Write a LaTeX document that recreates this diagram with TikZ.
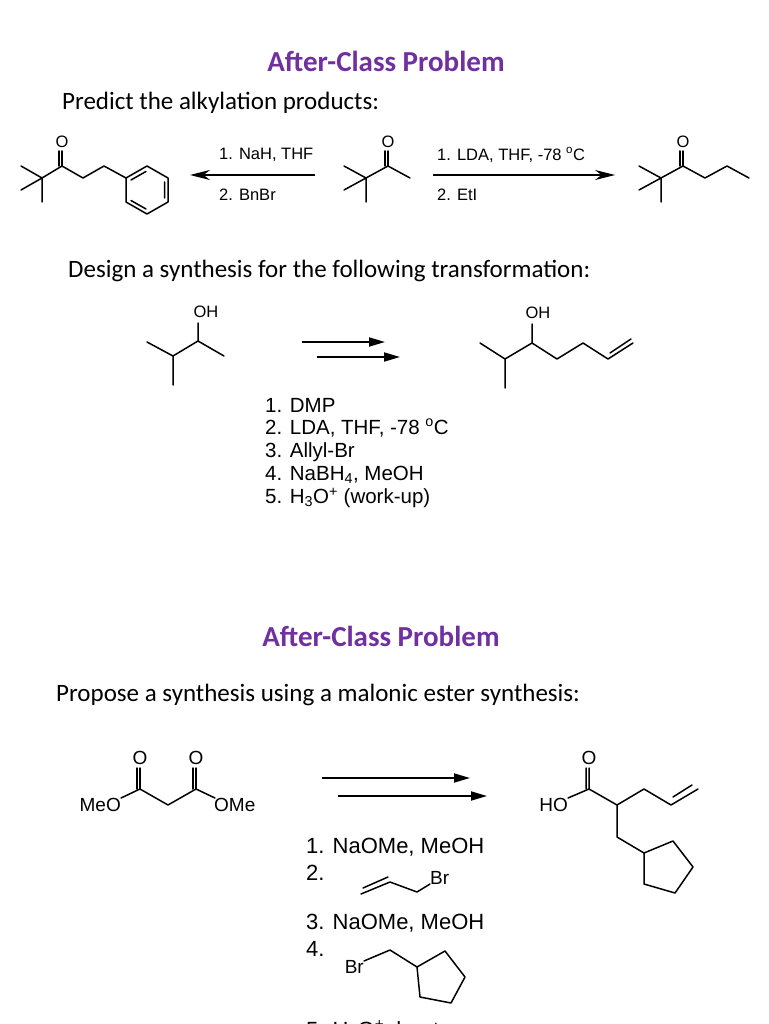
\documentclass[tikz,border=0pt]{standalone}
\usepackage{fontspec}
\setmainfont{Carlito}
\newfontfamily\arialf{Liberation Sans}
\usetikzlibrary{arrows.meta}
\definecolor{ttl}{HTML}{7030A0}
\newcommand{\sbs}[1]{\textsubscript{#1}}
\newcommand{\sps}[1]{\textsuperscript{#1}}
\begin{document}
\begin{tikzpicture}[x=1pt,y=-1pt,
  bd/.style={line width=1.5pt,line cap=round,line join=round},
  title/.style={font=\fontsize{29}{33}\selectfont\bfseries,text=ttl,inner sep=0},
  body/.style={font=\fontsize{25}{29}\selectfont,anchor=west,inner sep=0},
  lab/.style={font=\arialf\fontsize{16.5}{19}\selectfont,inner sep=0},
  mlab/.style={font=\arialf\fontsize{19}{22}\selectfont,inner sep=0},
  rg/.style={font=\arialf\fontsize{20.5}{24}\selectfont,anchor=west,inner sep=0},
  rgb/.style={font=\arialf\fontsize{22}{26}\selectfont,anchor=west,inner sep=0},
  arr/.style={line width=1.3pt,-{Stealth[length=20pt,width=10pt]}},
  arr2/.style={line width=1.8pt,-{Triangle[length=16pt,width=9pt]}}]
\useasboundingbox (0,0) rectangle (768,1024);
\fill[white] (0,0) rectangle (768,1024);
% titles
\node[title] (t1) at (386,61) {After-Class Problem};
\node[body] (b1) at (62,103) {Predict the alkylation products:};
% left product
\node[lab] (o1) at (62,142) {O};
\draw[bd] (21,166)--(42,178)--(21,190) (42,178)--(42,202) (42,178)--(62,166)--(83,178)--(104,166)--(126,178);
\draw[bd] (62,166)--(62,151) (59,166)--(59,151);
\draw[bd] (147,166)--(168,178)--(168,202)--(147,214)--(126,202)--(126,178)--cycle;
\draw[bd] (164.5,182)--(164.5,198) (146,209)--(131,200.5) (131,180)--(146,171.5);
% arrow 1
\coordinate (a1s) at (315,175); \coordinate (a1e) at (190,175);
\draw[arr] (a1s)--(a1e);
\node[lab,anchor=west] (r1) at (219,155) {1. NaH, THF};
\node[lab,anchor=west] (r2) at (219,195) {2. BnBr};
% middle
\node[lab] (o2) at (388,142) {O};
\draw[bd] (344,166)--(366,178)--(344,190) (366,178)--(366,202) (366,178)--(388,166)--(410,178);
\draw[bd] (388,166)--(388,151) (385,166)--(385,151);
\coordinate (a2s) at (433,175); \coordinate (a2e) at (615,175);
\draw[arr] (a2s)--(a2e);
\node[lab,anchor=west] (r3) at (437,155) {1. LDA, THF, -78 \sps{o}C};
\node[lab,anchor=west] (r4) at (437,195) {2. EtI};
% right
\node[lab] (o3) at (683,142) {O};
\draw[bd] (639,166)--(661,178)--(639,190) (661,178)--(661,202) (661,178)--(683,166)--(705,178)--(727,166)--(749,178);
\draw[bd] (683,166)--(683,151) (680,166)--(680,151);
% design
\node[body] (b2) at (68,271) {Design a synthesis for the following transformation:};
\node[lab] (oh1) at (206,312) {OH};
\draw[bd] (147,342)--(173,356)--(198,341)--(224,356) (173,356)--(173,385) (198,341)--(198,323);
\coordinate (d1s) at (302,342); \coordinate (d1e) at (385,342);
\coordinate (d2s) at (317,357); \coordinate (d2e) at (400,357);
\draw[arr2] (d1s)--(d1e); \draw[arr2] (d2s)--(d2e);
\node[lab] (oh2) at (538,313) {OH};
\draw[bd] (480,343)--(505,359)--(532,343)--(557,359)--(583,343)--(608,359)--(633,343) (505,359)--(505,388) (532,343)--(532,324);
\draw[bd] (610,353)--(631,339);
\node[rg] (s1) at (265,405) {1. DMP};
\node[rg] (s2) at (265,428) {2. LDA, THF, -78 \sps{o}C};
\node[rg] (s3) at (265,452) {3. Allyl-Br};
\node[rg] (s4) at (265,475) {4. NaBH\sbs{4}, MeOH};
\node[rg] (s5) at (265,498) {5. H\sbs{3}O\sps{+} (work-up)};
% second part
\node[title] (t2) at (381,636) {After-Class Problem};
\node[body] (b3) at (56,695) {Propose a synthesis using a malonic ester synthesis:};
\node[mlab] (mo1) at (140,758) {O};
\node[mlab] (mo2) at (196,758) {O};
\node[mlab,anchor=east] (meo) at (121,805) {MeO};
\node[mlab,anchor=west] (ome) at (214,805) {OMe};
\draw[bd] (121,798)--(140,789)--(168,805)--(196,789)--(215,798);
\draw[bd] (140,789)--(140,768) (137,789)--(137,768) (196,789)--(196,768) (193,789)--(193,768);
\coordinate (m1s) at (322,778); \coordinate (m1e) at (470,778);
\coordinate (m2s) at (338,796); \coordinate (m2e) at (487,796);
\draw[arr2] (m1s)--(m1e); \draw[arr2] (m2s)--(m2e);
\node[mlab] (po) at (589,758) {O};
\node[mlab,anchor=east] (ho) at (568,805) {HO};
\draw[bd] (568,798)--(589,789)--(617,805)--(644,789)--(671,805)--(698,789) (617,805)--(617,837)--(644,853);
\draw[bd] (589,789)--(589,768) (586,789)--(586,768) (673,797)--(692,785);
\draw[bd] (644,853)--(673,841)--(693,867)--(675,893)--(644,884)--cycle;
\node[rgb] (q1) at (306,847) {1. NaOMe, MeOH};
\node[rgb] (q2) at (306,873) {2.};
\draw[bd] (361,894)--(390,882)--(417,892)--(430,884) (363,888)--(388,877);
\node[mlab,anchor=west] (br1) at (430,878) {Br};
\node[rgb] (q3) at (306,923) {3. NaOMe, MeOH};
\node[rgb] (q4) at (306,949) {4.};
\node[mlab,anchor=east] (br2) at (364,967) {Br};
\draw[bd] (364,961)--(390,950)--(417,967);
\draw[bd] (417,967)--(445,951)--(465,977)--(451,1003)--(420,997)--cycle;
\node[rgb] (q5) at (306,1031) {5. H\sbs{3}O\sps{+}, heat};
\end{tikzpicture}
\end{document}
